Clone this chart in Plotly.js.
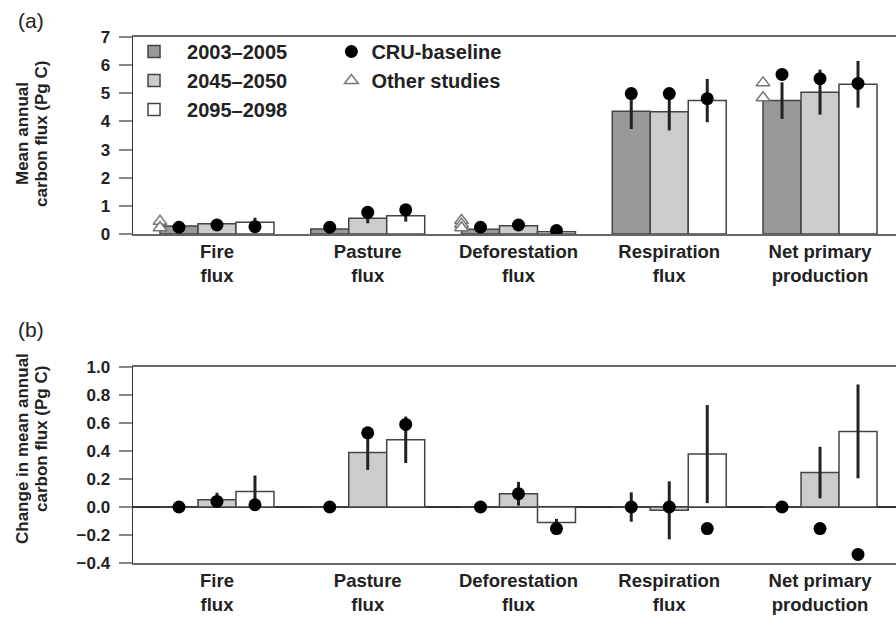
<!DOCTYPE html>
<html>
<head>
<meta charset="utf-8">
<script src="https://cdn.plot.ly/plotly-3.0.1.min.js"></script>
<style>html,body{margin:0;padding:0;background:#fff;}#chart{width:896px;height:619px;}</style>
</head>
<body>
<div id="chart"></div>
<script>
// ---------- DATA ----------
const categories = ['Fire<br>flux', 'Pasture<br>flux', 'Deforestation<br>flux', 'Respiration<br>flux', 'Net primary<br>production'];
const periods = ['2003–2005', '2045–2050', '2095–2098'];

// Panel (a): mean annual carbon flux (Pg C)
const a_2003 = [0.285, 0.18, 0.17, 4.36, 4.74];
const a_2003_err = [0.05, 0.05, 0.04, 0.63, 0.65];
const a_2045 = [0.36, 0.56, 0.29, 4.34, 5.04];
const a_2045_err = [0.05, 0.18, 0.05, 0.66, 0.80];
const a_2095 = [0.42, 0.65, 0.08, 4.74, 5.32];
const a_2095_err = [0.16, 0.21, 0.04, 0.77, 0.83];
const a_cru_2003 = [0.24, 0.24, 0.24, 4.99, 5.67];
const a_cru_2045 = [0.32, 0.77, 0.32, 4.99, 5.52];
const a_cru_2095 = [0.26, 0.86, 0.12, 4.81, 5.35];
// Other studies (category index, value)
const other_cat = [0, 0, 2, 2, 2, 4, 4];
const other_val = [0.45, 0.22, 0.48, 0.35, 0.22, 5.37, 4.84];

// Panel (b): change in mean annual carbon flux (Pg C)
const b_2003 = [0, 0, 0, 0, 0];
const b_2003_err = [0, 0, 0, 0.105, 0];
const b_2045 = [0.052, 0.39, 0.095, -0.024, 0.246];
const b_2045_err = [0.05, 0.125, 0.085, 0.207, 0.184];
const b_2095 = [0.11, 0.48, -0.11, 0.378, 0.54];
const b_2095_err = [0.115, 0.166, 0.025, 0.35, 0.335];
const b_cru_2003 = [0, 0, 0, 0, 0];
const b_cru_2045 = [0.04, 0.53, 0.095, 0.0, -0.154];
const b_cru_2095 = [0.016, 0.59, -0.154, -0.154, -0.339];

// ---------- STYLE ----------
const FONT = 'Liberation Sans, Arial, Helvetica, sans-serif';
const barColors = ['#999999', '#cccccc', '#ffffff'];
const BARGAP = 0.244;
const barW = (1 - BARGAP) / 3;
const idx = categories.map((_, i) => i);

const traces = [];
function addPanel(xa, ya, vals, errs, cru, legend) {
  vals.forEach((v, k) => {
    traces.push({
      type: 'bar', x: idx, y: v, xaxis: xa, yaxis: ya, name: periods[k],
      marker: {color: barColors[k], line: {color: '#444', width: 1.5}},
      error_y: {type: 'data', array: errs[k], symmetric: true, color: '#222', thickness: 3, width: 0},
      showlegend: legend, legend: 'legend', hoverinfo: 'skip'
    });
  });
  cru.forEach((c, k) => {
    traces.push({
      type: 'scatter', mode: 'markers', xaxis: xa, yaxis: ya,
      x: idx.map(i => i + (k - 1) * barW), y: c,
      name: 'CRU-baseline', legendgroup: 'cru', legend: 'legend2',
      showlegend: legend && k === 0,
      marker: {color: '#000', size: 13, symbol: 'circle'}, hoverinfo: 'skip'
    });
  });
}
addPanel('x', 'y', [a_2003, a_2045, a_2095], [a_2003_err, a_2045_err, a_2095_err], [a_cru_2003, a_cru_2045, a_cru_2095], true);
traces.push({
  type: 'scatter', mode: 'markers', xaxis: 'x', yaxis: 'y',
  x: other_cat.map(i => i - 1.5 * barW), y: other_val,
  name: 'Other studies', legend: 'legend2', showlegend: true,
  marker: {color: '#fff', size: 12, symbol: 'triangle-up', line: {color: '#777', width: 1.5}}, hoverinfo: 'skip'
});
addPanel('x2', 'y2', [b_2003, b_2045, b_2095], [b_2003_err, b_2045_err, b_2095_err], [b_cru_2003, b_cru_2045, b_cru_2095], false);

// ---------- LAYOUT ----------
const H = 619, T = 37, B = 56;
const plotH = H - T - B;
const py = p => (H - B - p) / plotH; // pixel row -> paper y

const xcommon = {
  range: [-0.557, 4.504], tickvals: idx, ticktext: categories,
  showline: true, linecolor: '#666', linewidth: 2, mirror: true,
  ticks: '', showgrid: false, zeroline: false, fixedrange: true,
  tickfont: {family: FONT, size: 18.5, weight: 'bold', color: '#222'}
};
const ycommon = {
  showline: true, linecolor: '#333', linewidth: 1.5,
  ticks: 'outside', ticklen: 13, tickwidth: 2, tickcolor: '#888', ticklabelstandoff: 5,
  showgrid: false, fixedrange: true,
  tickfont: {family: FONT, size: 17, weight: 'bold', color: '#222'}
};

function ann(text, xpx, ypx, size, bold, angle) {
  return {text: text, xref: 'paper', yref: 'paper', x: 0, xshift: xpx - 133, y: py(ypx),
    xanchor: 'center', yanchor: 'middle', textangle: angle || 0, showarrow: false,
    font: {family: FONT, size: size, weight: bold ? 'bold' : 'normal', color: '#222'}};
}

const layout = {
  width: 896, height: 619,
  margin: {l: 133, r: 0, t: T, b: B},
  paper_bgcolor: '#fff', plot_bgcolor: '#fff',
  font: {family: FONT, color: '#222'},
  barmode: 'group', bargap: BARGAP, bargroupgap: 0,
  xaxis: Object.assign({}, xcommon, {anchor: 'y', domain: [0, 1]}),
  xaxis2: Object.assign({}, xcommon, {anchor: 'y2', domain: [0, 1]}),
  yaxis: Object.assign({}, ycommon, {anchor: 'x', domain: [py(234), 1], range: [0, 7], dtick: 1, zeroline: false}),
  yaxis2: Object.assign({}, ycommon, {anchor: 'x2', domain: [0, py(367)], range: [-0.4, 1.0], dtick: 0.2, tickformat: '.1f',
    zeroline: true, zerolinecolor: '#333', zerolinewidth: 1.5}),
  legend: {x: -0.0157, xanchor: 'left', y: py(32), yanchor: 'top', bgcolor: 'rgba(0,0,0,0)',
    font: {family: FONT, size: 20, weight: 'bold', color: '#222'}, itemwidth: 56, tracegroupgap: 0},
  legend2: {x: 0.26, xanchor: 'left', y: py(32), yanchor: 'top', bgcolor: 'rgba(0,0,0,0)',
    font: {family: FONT, size: 20, weight: 'bold', color: '#222'}, tracegroupgap: 0},
  annotations: [
    ann('(a)', 31, 21, 21, false),
    ann('(b)', 31, 330, 21, false),
    ann('Mean annual', 22, 134, 17, true, -90),
    ann('carbon flux (Pg C)', 41, 134, 17, true, -90),
    ann('Change in mean annual', 22, 449, 17, true, -90),
    ann('carbon flux (Pg C)', 41, 439, 17, true, -90)
  ]
};

Plotly.newPlot('chart', traces, layout, {displayModeBar: false, staticPlot: true});
</script>
</body>
</html>
